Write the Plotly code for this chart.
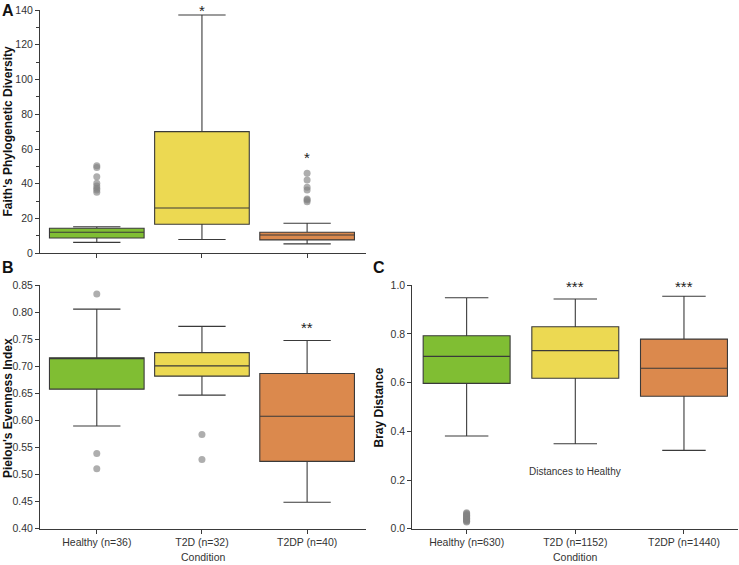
import plotly.graph_objects as go

W, H = 739, 565

# ---------------- data ----------------
cats_ab = ["Healthy (n=36)", "T2D (n=32)", "T2DP (n=40)"]
cats_c = ["Healthy (n=630)", "T2D (n=1152)", "T2DP (n=1440)"]
colors = ["#80BE33", "#ECD952", "#DB894D"]

# Panel A: Faith's Phylogenetic Diversity
a_low = [6.3, 7.9, 5.4]
a_q1 = [8.8, 16.7, 7.7]
a_med = [12.1, 26.1, 10.5]
a_q3 = [14.4, 70.0, 12.1]
a_high = [15.3, 137.1, 17.3]
a_out_healthy = [50.4, 49.3, 44.1, 40.3, 38.7, 37.4, 36.4, 35.1]
a_out_t2dp = [46.0, 42.2, 38.0, 36.4, 31.3, 30.7, 29.7]

# Panel B: Pielou's Evenness Index
b_low = [0.590, 0.647, 0.449]
b_q1 = [0.658, 0.682, 0.5245]
b_med = [0.716, 0.701, 0.608]
b_q3 = [0.716, 0.7255, 0.687]
b_high = [0.806, 0.774, 0.748]
b_out_healthy = [0.834, 0.539, 0.511]
b_out_t2d = [0.574, 0.528]

# Panel C: Bray Distance
c_low = [0.381, 0.349, 0.322]
c_q1 = [0.597, 0.618, 0.544]
c_med = [0.708, 0.7315, 0.659]
c_q3 = [0.793, 0.830, 0.779]
c_high = [0.949, 0.944, 0.955]
c_out_healthy = [0.028, 0.031, 0.034, 0.037, 0.040, 0.043, 0.046, 0.049,
                 0.052, 0.055, 0.058, 0.062, 0.066]

# significance marks
a_sig = [("T2DP (n=40)", 55.3, "*")]
a_sig_top = [("T2D (n=32)", "*")]   # above the plotting area
b_sig = [("T2DP (n=40)", 0.772, "**")]
c_sig = [("T2D (n=1152)", 0.995, "***"), ("T2DP (n=1440)", 0.995, "***")]

# ---------------- figure ----------------
fig = go.Figure()
FONT = "Liberation Sans, Arial, sans-serif"
LINE = "#3a3a3a"
OUT = "rgba(130,130,130,0.65)"


def add_boxes(cats, low, q1, med, q3, high, xa, ya, width):
    for i, c in enumerate(cats):
        fig.add_trace(go.Box(
            x=[c], q1=[q1[i]], median=[med[i]], q3=[q3[i]],
            lowerfence=[low[i]], upperfence=[high[i]],
            fillcolor=colors[i], line=dict(color=LINE, width=1.1),
            width=width, whiskerwidth=0.5, boxpoints=False,
            xaxis=xa, yaxis=ya, showlegend=False, hoverinfo="skip"))


def add_out(cat, vals, xa, ya):
    fig.add_trace(go.Scatter(
        x=[cat] * len(vals), y=vals, mode="markers",
        marker=dict(color=OUT, size=7, line=dict(width=0)),
        xaxis=xa, yaxis=ya, showlegend=False, hoverinfo="skip"))


add_boxes(cats_ab, a_low, a_q1, a_med, a_q3, a_high, "x", "y", 0.9)
add_out(cats_ab[0], a_out_healthy, "x", "y")
add_out(cats_ab[2], a_out_t2dp, "x", "y")

add_boxes(cats_ab, b_low, b_q1, b_med, b_q3, b_high, "x2", "y2", 0.9)
add_out(cats_ab[0], b_out_healthy, "x2", "y2")
add_out(cats_ab[1], b_out_t2d, "x2", "y2")

add_boxes(cats_c, c_low, c_q1, c_med, c_q3, c_high, "x3", "y3", 0.8)
add_out(cats_c[0], c_out_healthy, "x3", "y3")


def px_x(p):
    return p / W


def px_y(p):
    return 1 - p / H


axis_common = dict(showline=True, linecolor=LINE, linewidth=1, ticks="outside",
                   ticklen=4, tickcolor=LINE, showgrid=False, zeroline=False,
                   automargin=False,
                   tickfont=dict(family=FONT, size=10.5, color="#333"))

fig.update_layout(
    template="none",
    width=W, height=H, margin=dict(l=0, r=0, t=0, b=0, pad=0, autoexpand=False),
    paper_bgcolor="white", plot_bgcolor="white",
    font=dict(family=FONT, color="#222"),
    xaxis=dict(axis_common, type="category", categoryarray=cats_ab,
               range=[-0.54, 2.56], showticklabels=False,
               domain=[px_x(40), px_x(366)], anchor="y"),
    yaxis=dict(axis_common, range=[0, 140], tickvals=[0, 20, 40, 60, 80, 100, 120, 140],
               minor=dict(ticks="outside", ticklen=3, tickcolor=LINE, dtick=10),
               domain=[px_y(253.3), px_y(10)], anchor="x"),
    xaxis2=dict(axis_common, type="category", categoryarray=cats_ab,
                range=[-0.54, 2.56],
                domain=[px_x(40), px_x(366)], anchor="y2"),
    yaxis2=dict(axis_common, range=[0.40, 0.85], dtick=0.05, tickformat=".2f",
                domain=[px_y(528.7), px_y(285.3)], anchor="x2"),
    xaxis3=dict(axis_common, type="category", categoryarray=cats_c,
                range=[-0.5, 2.5],
                domain=[px_x(412.3), px_x(738.3)], anchor="y3"),
    yaxis3=dict(axis_common, range=[0, 1.0], dtick=0.2, tickformat=".1f",
                domain=[px_y(528.7), px_y(285.3)], anchor="x3"),
)

ann = []
CEN = dict(xanchor="center", yanchor="middle", showarrow=False)
STAR = dict(family=FONT, size=15, color="#222")
# significance stars
for cat, yv, txt in a_sig:
    ann.append(dict(x=cat, y=yv, xref="x", yref="y", text=txt, **CEN, font=STAR))
for cat, txt in a_sig_top:
    ann.append(dict(x=cat, y=1.0, xref="x", yref="paper", text=txt, xanchor="center",
                    yanchor="top", showarrow=False, font=STAR))
for cat, yv, txt in b_sig:
    ann.append(dict(x=cat, y=yv, xref="x2", yref="y2", text=txt, **CEN, font=STAR))
for cat, yv, txt in c_sig:
    ann.append(dict(x=cat, y=yv, xref="x3", yref="y3", text=txt, **CEN, font=STAR))

ann.append(dict(x=cats_c[1], y=0.237, xref="x3", yref="y3", text="Distances to Healthy",
                **CEN, font=dict(family=FONT, size=10, color="#333")))

# panel letters
for txt, xp, yp in [("A", 8, 10), ("B", 8, 268), ("C", 379, 268)]:
    ann.append(dict(x=px_x(xp), y=px_y(yp), xref="paper", yref="paper", text=f"<b>{txt}</b>",
                    **CEN, font=dict(family=FONT, size=16, color="#111")))

# y titles
for txt, xp, yp in [("Faith's Phylogenetic Diversity", 8, 131.5),
                    ("Pielou's Evenness Index", 8, 408),
                    ("Bray Distance", 378, 407.5)]:
    ann.append(dict(x=px_x(xp), y=px_y(yp), xref="paper", yref="paper", text=f"<b>{txt}</b>",
                    textangle=-90, **CEN,
                    font=dict(family=FONT, size=12, color="#111")))

# x titles
for xp in [203, 575]:
    ann.append(dict(x=px_x(xp), y=px_y(557), xref="paper", yref="paper", text="Condition",
                    **CEN, font=dict(family=FONT, size=10.5, color="#333")))

fig.update_layout(annotations=ann)

fig.write_html("out.html", config={"displayModeBar": False},
               post_script="document.body.style.margin='0px';")
